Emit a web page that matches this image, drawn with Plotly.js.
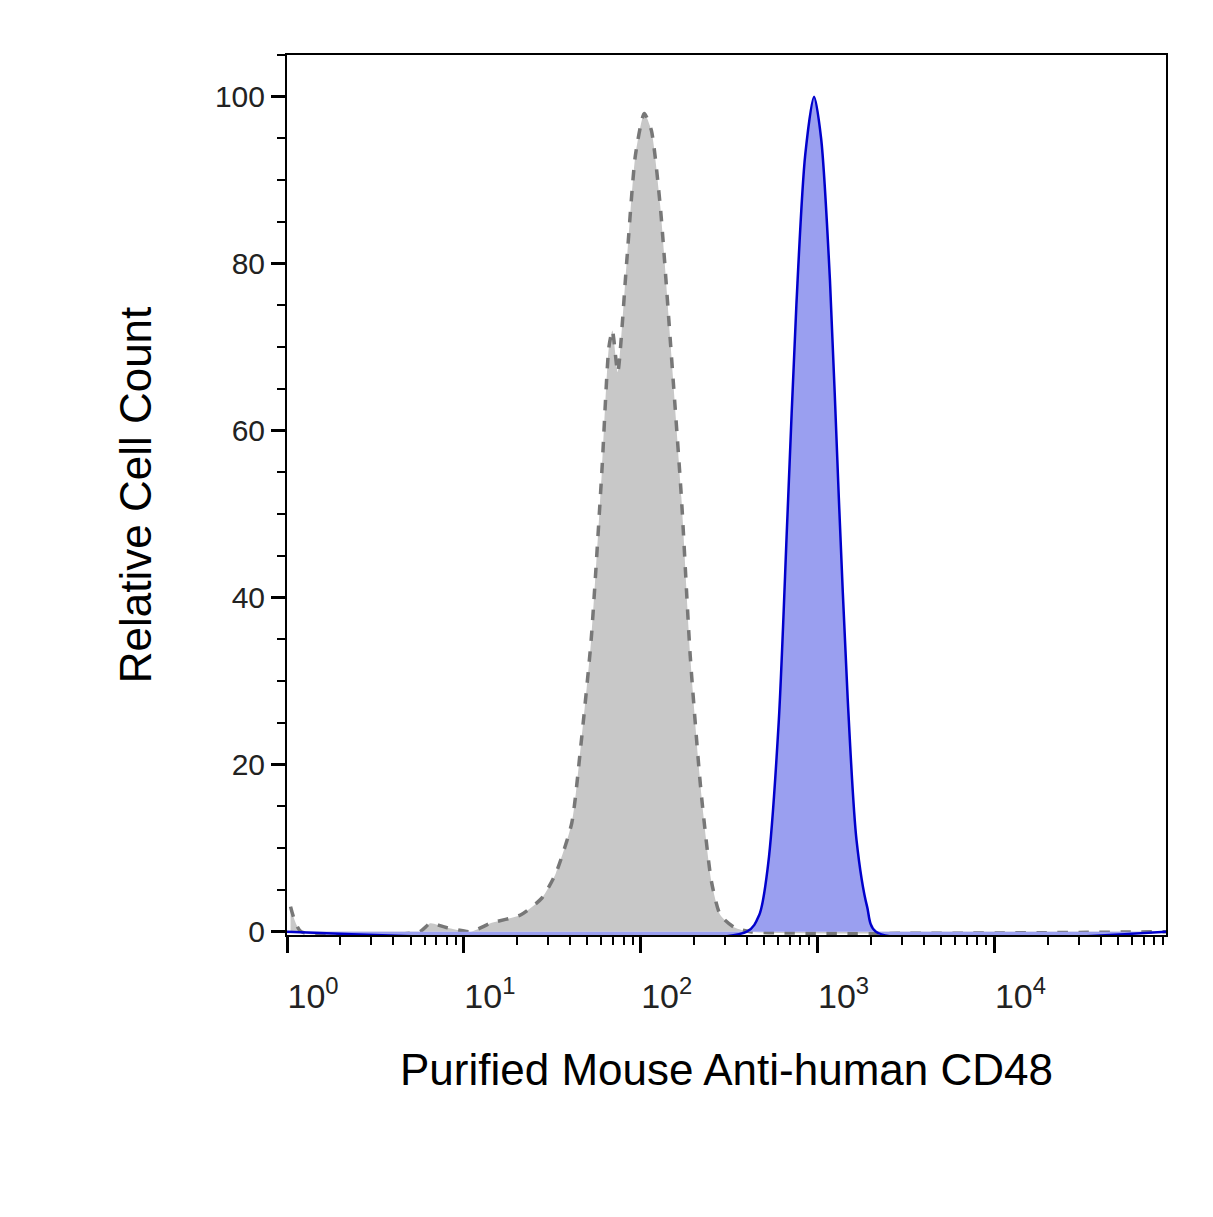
<!DOCTYPE html>
<html><head><script src="https://cdn.plot.ly/plotly-3.0.1.min.js"></script></head>
<body style="margin:0"><div id="chart" style="width:1213px;height:1217px"></div>
<script>
// positions on the log axis (decades) and relative counts
const grayLog = [0.02,0.08,0.75,0.81,0.9,1.04,1.15,1.32,1.44,1.52,1.61,1.66,1.72,1.78,1.82,1.84,1.87,1.92,1.97,2.02,2.06,2.11,2.17,2.23,2.28,2.34,2.40,2.45,2.53,2.62,4.97];
const grayVal = [3,0,0,1,0.5,0,1,2,4,7,13,22,35,55,70,72,67,80,93,98,96,87,70,52,33,17,6,2,0.5,0,0];
const blueLog = [0,2.6,2.67,2.72,2.78,2.83,2.88,2.93,2.98,3.02,3.07,3.12,3.17,3.22,3.28,3.33,4.97];
const blueVal = [0,0,2,8,25,50,75,93,100,95,78,52,28,11,3,0,0];
const tickVals = [1,10,100,1000,10000];
const tickText = ['10<sup>0</sup>','10<sup>1</sup>','10<sup>2</sup>','10<sup>3</sup>','10<sup>4</sup>'];

const toX = a => a.map(l => Math.pow(10, l));
const gray = {x: toX(grayLog), y: grayVal, type:'scatter', mode:'lines', fill:'tozeroy',
  fillcolor:'#c8c8c8', line:{color:'#777', dash:'dash', width:3.5, shape:'spline', smoothing:0.6}};
const blue = {x: toX(blueLog), y: blueVal, type:'scatter', mode:'lines', fill:'tozeroy',
  fillcolor:'#9a9ff0', line:{color:'#0000cc', width:2.5, shape:'spline', smoothing:0.8}};

const font = {family:'Liberation Sans, Arial, sans-serif', color:'#000'};
Plotly.newPlot('chart', [gray, blue], {
  width:1213, height:1217, showlegend:false,
  margin:{l:287, r:47, t:55, b:282},
  paper_bgcolor:'#fff', plot_bgcolor:'#fff', font:font,
  xaxis:{type:'log', range:[0,4.97], tickvals:tickVals, ticktext:tickText,
    ticks:'outside', ticklen:16, tickwidth:3, tickcolor:'#000', ticklabelshift:26, ticklabelstandoff:14,
    minor:{dtick:'D1', ticks:'outside', ticklen:8, tickcolor:'#000', tickwidth:2},
    showgrid:false, zeroline:false, showline:true, linecolor:'#000', linewidth:2, mirror:true,
    tickfont:{size:34, color:'#222'},
    title:{text:'Purified Mouse Anti-human CD48', font:{size:44}, standoff:40}},
  yaxis:{range:[-0.4,105], tickvals:[0,20,40,60,80,100],
    ticks:'outside', ticklen:14, tickwidth:3, tickcolor:'#000',
    minor:{dtick:5, ticks:'outside', ticklen:8, tickcolor:'#000', tickwidth:2},
    showgrid:false, zeroline:false, showline:true, linecolor:'#000', linewidth:2, mirror:true,
    tickfont:{size:30, color:'#222'},
    title:{text:'Relative Cell Count', font:{size:44}, standoff:50}}
}, {displayModeBar:false});
</script></body></html>
